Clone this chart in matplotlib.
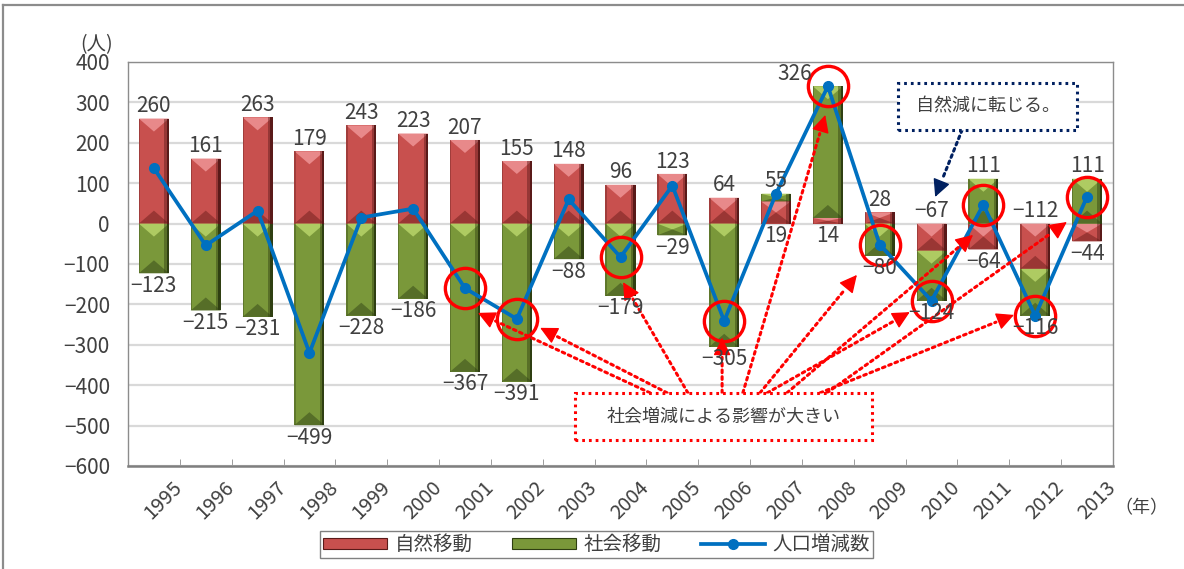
import matplotlib.pyplot as plt
import matplotlib.transforms as mtransforms
import numpy as np
from matplotlib.lines import Line2D
from matplotlib.patches import Patch, Polygon, Rectangle

plt.rcParams['font.family'] = ['Liberation Sans Narrow', 'Noto Sans CJK JP', 'DejaVu Sans']
plt.rcParams['axes.unicode_minus'] = True

# データ (人)
years = ['1995', '1996', '1997', '1998', '1999', '2000', '2001', '2002', '2003', '2004',
         '2005', '2006', '2007', '2008', '2009', '2010', '2011', '2012', '2013']
natural = [260, 161, 263, 179, 243, 223, 207, 155, 148, 96, 123, 64, 55, 14, 28, -67, -64, -112, -44]
social = [-123, -215, -231, -499, -228, -186, -367, -391, -88, -179, -29, -305, 19, 326, -80, -124, 111, -116, 111]
total = [137, -54, 32, -320, 15, 37, -160, -236, 60, -83, 94, -241, 74, 340, -52, -191, 47, -228, 67]
circled = ['2001', '2002', '2004', '2006', '2008', '2009', '2010', '2011', '2012', '2013']

RED = ('#C8504E', '#E8898A', '#5A1A19', '#9A3634')     # base, light, dark, bottom
GREEN = ('#7A983A', '#AECB62', '#2F3F12', '#566E28')
BLUE = '#0070C0'
TXT = '#404040'

fig = plt.figure(figsize=(11.84, 5.69), dpi=100)
ax = fig.add_axes([128 / 1184, 1 - 466 / 569, 985 / 1184, 404 / 569])

x = np.arange(len(years))
w = 0.58
upp = 1000 / 404  # y units per pixel


def bevel(x0, lo, hi, c):
    x1 = x0 + w
    xc = x0 + w / 2
    d = min(13 * upp, (hi - lo) / 2)
    ax.add_patch(Polygon([(x0, hi), (x1, hi), (xc, hi - d)], closed=True, fc=c[1], ec='none', zorder=2.1))
    ax.add_patch(Polygon([(x0, lo), (x1, lo), (xc, lo + d)], closed=True, fc=c[3], ec='none', zorder=2.1))
    s = 0.045
    ax.add_patch(Rectangle((x1 - 2 * s, lo), s, hi - lo, fc=c[2], alpha=0.45, ec='none', zorder=2.2))
    ax.add_patch(Rectangle((x1 - s, lo), s, hi - lo, fc=c[2], ec='none', zorder=2.2))
    ax.add_patch(Rectangle((x0, lo), s * 0.6, hi - lo, fc=c[2], alpha=0.35, ec='none', zorder=2.2))


pos_base = np.zeros(len(x))
neg_base = np.zeros(len(x))
for vals, col in [(natural, RED), (social, GREEN)]:
    v = np.array(vals, dtype=float)
    bottom = np.where(v >= 0, pos_base, neg_base)
    ax.bar(x, v, w, bottom=bottom, color=col[0], edgecolor='none', zorder=2)
    for xi, b, vi in zip(x, bottom, v):
        lo, hi = sorted((b, b + vi))
        bevel(xi - w / 2, lo, hi, col)
    pos_base += np.where(v >= 0, v, 0)
    neg_base += np.where(v < 0, v, 0)

# 人口増減数
tot = np.array(total)
ax.plot(x, tot, color=BLUE, lw=2.7, marker='o', ms=7, zorder=4)
idx = [years.index(y) for y in circled]
ax.plot(x[idx], tot[idx], ls='none', marker='o', ms=29, mfc='none', mec='red', mew=2.4, zorder=5)

# データラベル
label_dx = {'2008': -24}
fs_lab = 15
for i, (a, b) in enumerate(zip(natural, social)):
    top = pos_base[i]
    bot = neg_base[i]
    dx = label_dx.get(years[i], 0)
    if (a >= 0) != (b >= 0):
        up, down = (a, b) if a >= 0 else (b, a)
        pairs = [(up, top, 'bottom', 1), (down, bot, 'top', -1)]
    elif a >= 0:
        big, small = (a, b) if a >= b else (b, a)
        pairs = [(big, top, 'bottom', 1), (small, 0, 'top', -1)]
    else:
        big, small = (a, b) if a <= b else (b, a)
        pairs = [(small, 0, 'bottom', 1), (big, bot, 'top', -1)]
    for val, yy, va, sgn in pairs:
        ax.annotate(f'{val}'.replace('-', '\u2212'), (x[i], yy), xytext=(dx if sgn > 0 else 0, sgn * 1),
                    textcoords='offset points', ha='center', va=va, fontsize=fs_lab, color=TXT, zorder=6)

# 軸
ax.set_xlim(-0.5, len(years) - 0.5)
ax.set_ylim(-600, 400)
yt = np.arange(-600, 401, 100)
ax.set_yticks(yt)
ax.set_yticklabels([f'{v}'.replace('-', '\u2212') for v in yt], fontsize=15, color=TXT)
ax.tick_params(axis='y', length=0, pad=13)
ax.grid(axis='y', color='#D9D9D9', lw=1.6, zorder=0)
ax.set_axisbelow(True)
for sp in ax.spines.values():
    sp.set_color('#8C8C8C')
    sp.set_linewidth(1.0)
ax.spines['bottom'].set_linewidth(1.8)
ax.spines['bottom'].set_color('#7F7F7F')

ax.set_xticks(x)
ax.set_xticklabels(years, rotation=45, ha='right', va='top', rotation_mode='anchor', fontsize=14.5, color=TXT)
ax.tick_params(axis='x', which='major', length=0, pad=8)
ax.set_xticks(np.arange(-0.5, len(years)), minor=True)
ax.tick_params(axis='x', which='minor', direction='in', length=5, color='#8C8C8C')
shift = mtransforms.ScaledTranslation(18 / 100, 0, fig.dpi_scale_trans)
for lab in ax.get_xticklabels():
    lab.set_transform(lab.get_transform() + shift)

fig.text(97 / 1184, 1 - 45 / 569, '(人)', ha='center', va='center', fontsize=14, color=TXT)
fig.text(1141 / 1184, 1 - 508 / 569, '（年）', ha='center', va='center', fontsize=13, color=TXT,
         family=['Noto Sans CJK JP'])

dot = (0, (0.9, 1.3))


def dotted_arrow(start, tip, color):
    # 点線の軸 + 塗りつぶしの矢じり
    ax.annotate('', xy=tip, xytext=start,
                arrowprops=dict(arrowstyle='-', color=color, lw=2.2, ls=dot, shrinkA=0, shrinkB=14), zorder=5)
    near = (tip[0] - 0.03 * (tip[0] - start[0]), tip[1] - 0.03 * (tip[1] - start[1]))
    ax.annotate('', xy=tip, xytext=near,
                arrowprops=dict(arrowstyle='-|>,head_length=0.6,head_width=0.3', mutation_scale=18,
                                color=color, lw=1, shrinkA=0, shrinkB=0), zorder=5)


# 注記: 社会増減
ax.add_patch(Rectangle((8.12, -536), 5.73, 117, fc='white', ec='red', lw=2.2, ls=dot, zorder=6))
ax.text(10.98, -477, '社会増減による影響が大きい', ha='center', va='center', fontsize=13, color=TXT,
        family=['Noto Sans CJK JP'], zorder=7)
starts = [9.57, 9.90, 10.30, 10.96, 11.36, 11.69, 11.83, 12.21, 12.85, 12.98]
tips = [(6.25, -221), (7.45, -258), (9.05, -145), (10.96, -283), (12.95, 269),
        (13.56, -127), (14.58, -219), (15.80, -28), (16.59, -226), (17.61, 4)]
for sx, tip in zip(starts, tips):
    dotted_arrow((sx, -419), tip, 'red')

# 注記: 自然減
ax.add_patch(Rectangle((14.35, 232), 3.46, 116, fc='white', ec='#002060', lw=2.2, ls=dot, zorder=6))
ax.text(16.08, 290, '自然減に転じる。', ha='center', va='center', fontsize=13, color=TXT,
        family=['Noto Sans CJK JP'], zorder=7)
dotted_arrow((15.59, 232), (15.07, 66), '#002060')

# 凡例
handles = [Patch(fc=RED[0], ec=RED[2], lw=0.8), Patch(fc=GREEN[0], ec=GREEN[2], lw=0.8),
           Line2D([], [], color=BLUE, lw=2.7, marker='o', ms=7)]
fig.legend(handles, ['自然移動', '社会移動', '人口増減数'], loc='center', bbox_to_anchor=(0.504, 0.043),
           ncol=3, frameon=True, fancybox=False, edgecolor='#808080', framealpha=1,
           prop={'family': ['Noto Sans CJK JP'], 'size': 14}, handlelength=3.3, handleheight=0.5,
           borderpad=0.15, columnspacing=2.0, handletextpad=0.4, labelcolor=TXT)

# 外枠
fig.add_artist(Line2D([3 / 1184, 1], [1 - 5 / 569] * 2, transform=fig.transFigure, color='#8C8C8C', lw=1.6))
fig.add_artist(Line2D([3 / 1184] * 2, [0, 1 - 5 / 569], transform=fig.transFigure, color='#8C8C8C', lw=1.6))

fig.savefig('out.png', dpi=100)
